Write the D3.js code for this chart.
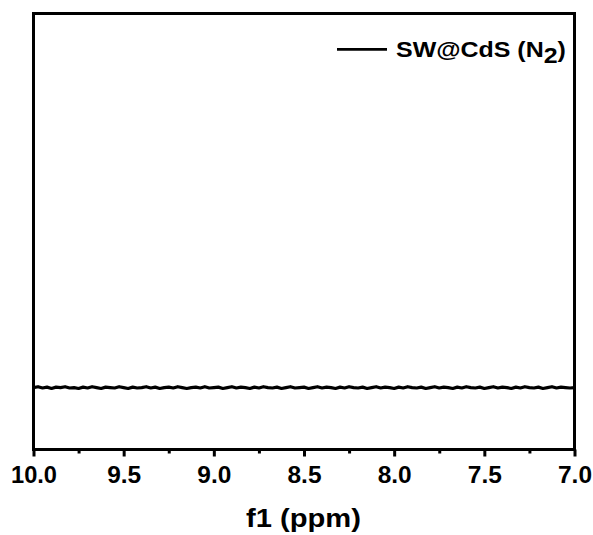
<!DOCTYPE html>
<html><head><meta charset="utf-8">
<script src="https://cdn.jsdelivr.net/npm/d3@7"></script>
<style>body{margin:0;background:#fff}svg{display:block}</style>
</head><body>
<script>
const xTicks = [10.0, 9.5, 9.0, 8.5, 8.0, 7.5, 7.0];
const xMinorTicks = [9.75, 9.25, 8.75, 8.25, 7.75, 7.25];
const seriesName = "SW@CdS (N";
const shift = [
10.000,9.975,9.950,9.925,9.900,9.875,9.850,9.825,9.800,9.775,
9.750,9.725,9.700,9.675,9.650,9.625,9.600,9.575,9.550,9.525,
9.500,9.475,9.450,9.425,9.400,9.375,9.350,9.325,9.300,9.275,
9.250,9.225,9.200,9.175,9.150,9.125,9.100,9.075,9.050,9.025,
9.000,8.975,8.950,8.925,8.900,8.875,8.850,8.825,8.800,8.775,
8.750,8.725,8.700,8.675,8.650,8.625,8.600,8.575,8.550,8.525,
8.500,8.475,8.450,8.425,8.400,8.375,8.350,8.325,8.300,8.275,
8.250,8.225,8.200,8.175,8.150,8.125,8.100,8.075,8.050,8.025,
8.000,7.975,7.950,7.925,7.900,7.875,7.850,7.825,7.800,7.775,
7.750,7.725,7.700,7.675,7.650,7.625,7.600,7.575,7.550,7.525,
7.500,7.475,7.450,7.425,7.400,7.375,7.350,7.325,7.300,7.275,
7.250,7.225,7.200,7.175,7.150,7.125,7.100,7.075,7.050,7.025,
7.000];
const intensity = [
0.142,0.144,0.141,0.143,0.140,0.143,0.142,0.144,0.141,0.142,
0.140,0.143,0.141,0.144,0.142,0.140,0.143,0.142,0.141,0.144,
0.142,0.140,0.143,0.141,0.142,0.144,0.141,0.143,0.140,0.142,
0.143,0.141,0.144,0.142,0.140,0.142,0.143,0.141,0.144,0.141,
0.142,0.143,0.140,0.142,0.144,0.141,0.143,0.142,0.140,0.143,
0.141,0.144,0.142,0.141,0.143,0.140,0.142,0.144,0.141,0.142,
0.143,0.140,0.142,0.144,0.141,0.143,0.142,0.140,0.143,0.141,
0.144,0.142,0.141,0.143,0.140,0.142,0.144,0.141,0.143,0.142,
0.140,0.143,0.141,0.144,0.142,0.141,0.143,0.140,0.142,0.144,
0.141,0.143,0.142,0.140,0.143,0.141,0.144,0.142,0.141,0.143,
0.140,0.142,0.144,0.141,0.143,0.142,0.140,0.143,0.141,0.144,
0.142,0.141,0.143,0.140,0.142,0.144,0.141,0.143,0.142,0.141,
0.142];
const W = 593, H = 535;
const m = {l:33.5, r:574.5, t:13.5, b:449.5};
const svg = d3.select("body").append("svg").attr("width",W).attr("height",H);
const x = d3.scaleLinear().domain([10,7]).range([m.l,m.r]);
const y = d3.scaleLinear().domain([0,1]).range([m.b,m.t]);
const font = "Arial, 'Liberation Sans', sans-serif";

// data line
const pts = shift.map((s,i)=>[s,intensity[i]]);
svg.append("path").datum(pts)
  .attr("d", d3.line().x(d=>x(d[0])).y(d=>y(d[1])))
  .attr("fill","none").attr("stroke","#000").attr("stroke-width",3.2).attr("stroke-linejoin","round");

// frame
svg.append("rect").attr("x",m.l).attr("y",m.t).attr("width",m.r-m.l).attr("height",m.b-m.t)
  .attr("fill","none").attr("stroke","#000").attr("stroke-width",3);

// axis
const ax = svg.append("g").attr("transform",`translate(0,${m.b})`);
ax.call(d3.axisBottom(x).tickValues(xTicks).tickFormat(d3.format(".1f")).tickSizeInner(7).tickSizeOuter(0).tickPadding(10));
ax.select(".domain").remove();
ax.selectAll(".tick line").attr("stroke-width",3);
ax.selectAll(".tick text").attr("font-family",font).attr("font-weight","bold").attr("font-size","23px")
  .attr("textLength", d => d >= 10 ? 46 : 34).attr("lengthAdjust","spacingAndGlyphs").attr("fill","#000");
const mx = svg.append("g").attr("transform",`translate(0,${m.b})`);
mx.call(d3.axisBottom(x).tickValues(xMinorTicks).tickFormat("").tickSizeInner(4).tickSizeOuter(0));
mx.select(".domain").remove();
mx.selectAll(".tick line").attr("stroke-width",3);

// axis title
svg.append("text").attr("x",246).attr("y",527)
  .attr("font-family",font).attr("font-weight","bold").attr("font-size","25px")
  .attr("textLength",115).attr("lengthAdjust","spacingAndGlyphs").text("f1 (ppm)");

// legend
svg.append("line").attr("x1",337).attr("x2",387).attr("y1",49.3).attr("y2",49.3).attr("stroke","#000").attr("stroke-width",2.7);
const lt = svg.append("text").attr("transform","translate(396,57.3) scale(1.11,1)")
  .attr("font-family",font).attr("font-weight","bold").attr("font-size","22.5px");
lt.append("tspan").text(seriesName);
lt.append("tspan").attr("dy",6).text("2");
lt.append("tspan").attr("dy",-6).text(")");
</script>
</body></html>
